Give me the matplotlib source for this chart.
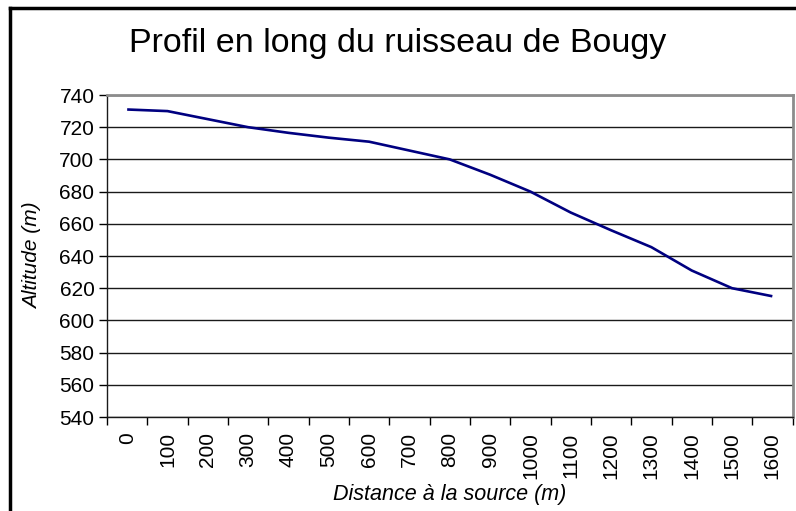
import matplotlib
matplotlib.use("Agg")
import matplotlib.pyplot as plt
from matplotlib.lines import Line2D

plt.rcParams["font.family"] = ["Liberation Sans", "DejaVu Sans"]

# distance à la source (m) et altitude (m)
distances = [0, 100, 200, 300, 400, 500, 600, 700, 800,
             900, 1000, 1100, 1200, 1300, 1400, 1500, 1600]
altitudes = [731, 730, 725, 720, 716.5, 713.5, 711, 705.5, 700,
             690.5, 680, 667, 656, 645.5, 631, 620, 615]
y_ticks = [540, 560, 580, 600, 620, 640, 660, 680, 700, 720, 740]

W, H = 796, 511
fig = plt.figure(figsize=(W / 100, H / 100), dpi=100)
ax = fig.add_axes([107 / W, 1 - 417 / H, 685.5 / W, 322 / H])

pos = list(range(len(distances)))
ax.plot(pos, altitudes, color="#000080", lw=1.9, solid_capstyle="butt")

ax.set_xlim(-0.5, len(distances) - 0.5)
ax.set_ylim(540, 740)
ax.set_yticks(y_ticks)
for v in y_ticks:
    ax.axhline(v, color="#1a1a1a", lw=1, zorder=0)

ax.set_xticks(pos)
ax.set_xticklabels([str(d) for d in distances], rotation=90, va="top")
ax.set_xticks([p - 0.5 for p in pos] + [len(pos) - 0.5], minor=True)
ax.tick_params(axis="x", which="major", length=0, pad=11, labelsize=15)
ax.tick_params(axis="x", which="minor", length=6, width=1, direction="out")
ax.tick_params(axis="y", length=6, width=1, direction="out", pad=3, labelsize=15)

for s in ["top", "right"]:
    ax.spines[s].set_color("#8c8c8c")
    ax.spines[s].set_linewidth(2)
for s in ["left", "bottom"]:
    ax.spines[s].set_color("#1a1a1a")
    ax.spines[s].set_linewidth(1)

ax.set_ylabel("Altitude (m)", style="italic", fontsize=15, va="center")
ax.yaxis.set_label_coords(-0.109, 0.5)
ax.set_xlabel("Distance à la source (m)", style="italic", fontsize=15.5, va="baseline")
ax.xaxis.set_label_coords(0.5, -83 / 322)

fig.text(398 / W, 1 - 52 / H, "Profil en long du ruisseau de Bougy",
         ha="center", va="baseline", fontsize=24.5)

# cadre du graphique (bords gauche et haut visibles)
fig.add_artist(Line2D([9.5 / W, 9.5 / W], [0, 1 - 8 / H], color="black", lw=2.5,
                      transform=fig.transFigure))
fig.add_artist(Line2D([9.5 / W, 1], [1 - 8 / H, 1 - 8 / H], color="black", lw=2.5,
                      transform=fig.transFigure))

fig.savefig("out.png", dpi=100)
